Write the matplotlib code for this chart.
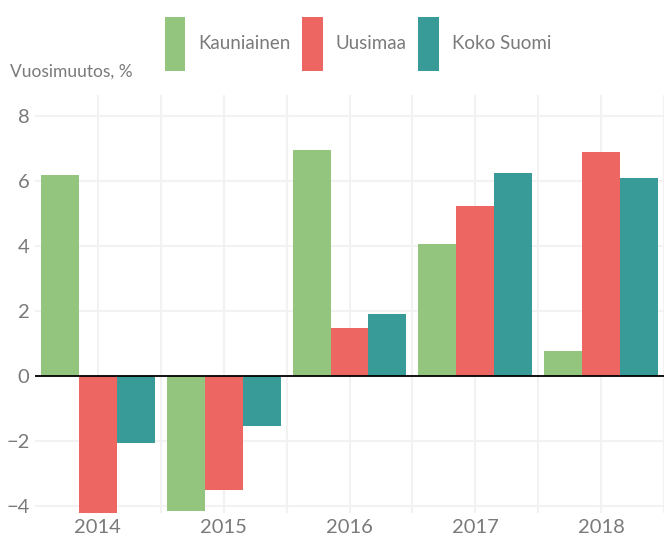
import matplotlib
matplotlib.use('Agg')
import matplotlib.pyplot as plt
import numpy as np

# data
years = ['2014', '2015', '2016', '2017', '2018']
kauniainen = [6.18, -4.18, 6.95, 4.05, 0.76]
uusimaa = [-4.35, -3.51, 1.47, 5.22, 6.88]
koko_suomi = [-2.07, -1.54, 1.90, 6.24, 6.08]
series_names = ['Kauniainen', 'Uusimaa', 'Koko Suomi']
colors = ['#94c57e', '#ee6661', '#389b97']
y_ticks = [-4, -2, 0, 2, 4, 6, 8]

TEXT = '#7a7a7a'
GRID = '#f2f2f2'
plt.rcParams['font.family'] = ['Lato', 'DejaVu Sans']

fig = plt.figure(figsize=(6.64, 5.38), dpi=100)
ax = fig.add_axes([35 / 664, 1 - 513 / 538, 1 - 35 / 664, (513 - 95) / 538])

x = np.arange(len(years))
bar_w = 0.302
for i, (vals, name, c) in enumerate(zip([kauniainen, uusimaa, koko_suomi], series_names, colors)):
    ax.bar(x + (i - 1) * bar_w, vals, width=bar_w, color=c, label=name, zorder=2)

ax.axhline(0, color='black', lw=1.3, zorder=3)

ax.set_xlim(-0.5, 4.453)
ax.set_ylim(-4.23, 8.64)
ax.set_xticks(x)
ax.set_xticklabels(years)
ax.set_xticks(x + 0.5, minor=True)
ax.set_yticks(y_ticks)
ax.grid(True, which='major', color=GRID, lw=1.5, zorder=0)
ax.grid(True, which='minor', axis='x', color=GRID, lw=1.5, zorder=0)
ax.tick_params(which='both', length=0, labelsize=14.5, labelcolor=TEXT)
ax.tick_params(axis='x', pad=4)
ax.tick_params(axis='y', pad=4)
for s in ax.spines.values():
    s.set_visible(False)

fig.text(10 / 664, 1 - 72 / 538, 'Vuosimuutos, %', fontsize=12.5, color=TEXT,
         ha='left', va='center')

leg = fig.legend(loc='center', bbox_to_anchor=(358 / 664, 1 - 44 / 538), ncol=3,
                 frameon=False, fontsize=13.5, handlelength=1.1, handleheight=4.0,
                 handletextpad=0.7, columnspacing=0.6, borderaxespad=0)
for t in leg.get_texts():
    t.set_color(TEXT)

fig.savefig('out.png', dpi=100)
